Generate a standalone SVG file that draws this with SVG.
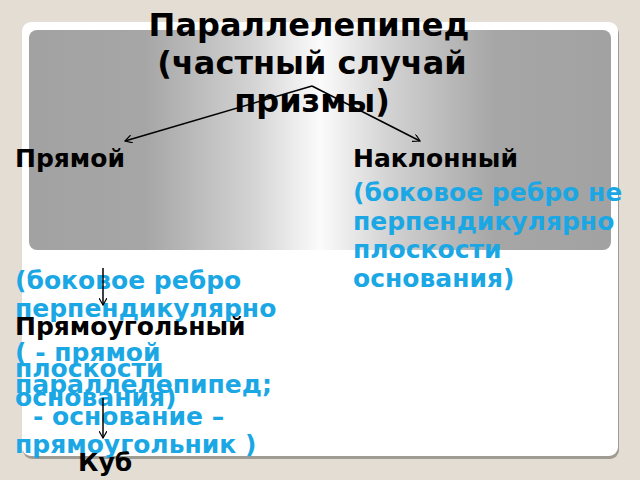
<svg xmlns="http://www.w3.org/2000/svg" width="640" height="480" viewBox="0 0 640 480">
<defs>
<linearGradient id="metal" x1="0" y1="0" x2="1" y2="0">
<stop offset="0" stop-color="#a2a2a2"/>
<stop offset="0.2" stop-color="#a6a6a6"/>
<stop offset="0.38" stop-color="#d2d2d2"/>
<stop offset="0.5" stop-color="#fbfbfb"/>
<stop offset="0.62" stop-color="#d2d2d2"/>
<stop offset="0.8" stop-color="#a6a6a6"/>
<stop offset="1" stop-color="#a2a2a2"/>
</linearGradient>
<marker id="arr" viewBox="0 0 8 8" refX="7" refY="4" markerWidth="8" markerHeight="8" markerUnits="userSpaceOnUse" orient="auto">
<path d="M0,0 L7,4 L0,8" fill="none" stroke="#000" stroke-width="1.2"/>
</marker>
<style>
.t{font-family:"DejaVu Sans",Verdana,sans-serif;font-weight:bold;}
.title{font-size:32px;fill:#000;text-anchor:middle;}
.blk{font-size:25px;fill:#000;}
.blu{font-size:25px;fill:#1aa7e4;}
.con{stroke:#000;stroke-width:1.5;fill:none;marker-end:url(#arr);}
</style>
</defs>
<rect x="0" y="0" width="640" height="480" fill="#e3ddd3"/>
<rect x="23" y="25" width="596" height="434" rx="9" fill="#9f9c94"/>
<rect x="22" y="22" width="596" height="434" rx="9" fill="#ffffff"/>
<rect x="29" y="30" width="582" height="220" rx="8" fill="url(#metal)"/>

<g id="node-root" class="t title">
<text x="309" y="36">Параллелепипед</text>
<text x="312" y="74">(частный случай</text>
<text x="312" y="112">призмы)</text>
</g>
<g id="node-pryamoy" class="t">
<text class="blk" x="15" y="167">Прямой</text>
<text class="blu" x="15" y="289">(боковое ребро</text>
<text class="blu" x="15" y="317">перпендикулярно</text>
<text class="blu" x="15" y="377">плоскости</text>
<text class="blu" x="15" y="406">основания)</text>
</g>
<g id="node-naklonny" class="t">
<text class="blk" x="353" y="167">Наклонный</text>
<text class="blu" x="353" y="201">(боковое ребро не</text>
<text class="blu" x="353" y="230">перпендикулярно</text>
<text class="blu" x="353" y="258">плоскости</text>
<text class="blu" x="353" y="287">основания)</text>
</g>
<g id="node-pryamougolny" class="t">
<text class="blk" x="15" y="335">Прямоугольный</text>
<text class="blu" x="15" y="361">( - прямой</text>
<text class="blu" x="15" y="393">параллелепипед;</text>
<text class="blu" x="33" y="425">- основание –</text>
<text class="blu" x="15" y="453">прямоугольник )</text>
</g>
<g id="node-kub" class="t">
<text class="blk" x="78" y="471">Куб</text>
</g>
<g id="connectors">
<polyline class="con" points="312,86 125,141" />
<polyline class="con" points="312,86 420,141" />
<line class="con" x1="103" y1="268" x2="103" y2="305"/>
<line class="con" x1="103" y1="398" x2="103" y2="438"/>
</g>
</svg>
